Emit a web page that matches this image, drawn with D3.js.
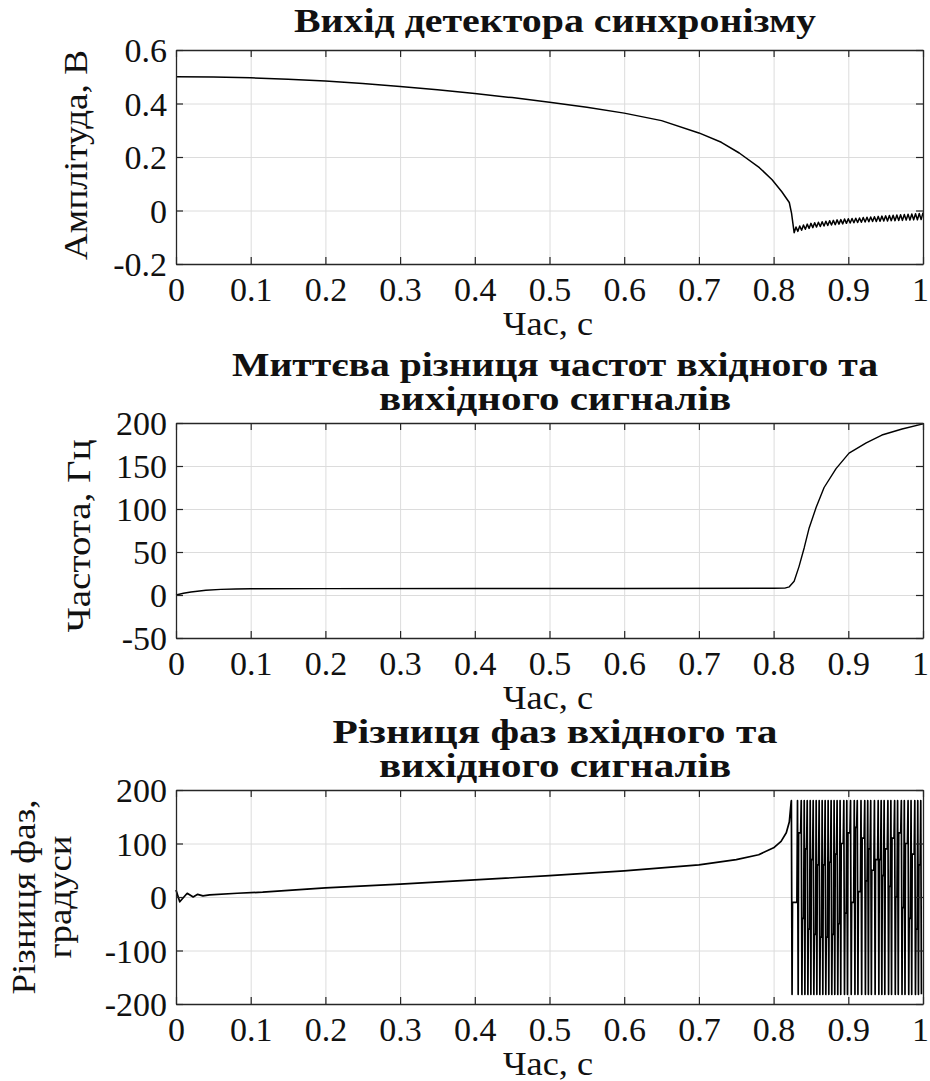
<!DOCTYPE html>
<html><head><meta charset="utf-8">
<script src="https://cdn.jsdelivr.net/npm/d3@7"></script>
<style>body{margin:0;background:#fff}</style>
</head><body>
<svg id="c" width="930" height="1081"></svg>
<script>
// ---------- data ----------
const xTicks = [0, 0.1, 0.2, 0.3, 0.4, 0.5, 0.6, 0.7, 0.8, 0.9, 1];
const xTickLabels = ["0", "0.1", "0.2", "0.3", "0.4", "0.5", "0.6", "0.7", "0.8", "0.9", "1"];

const p1YTicks = [-0.2, 0, 0.2, 0.4, 0.6];
const p1YTickLabels = ["-0.2", "0", "0.2", "0.4", "0.6"];
const p1Time = [0, 0.05, 0.1, 0.15, 0.2, 0.25, 0.3, 0.35, 0.4, 0.45, 0.5, 0.55, 0.6, 0.65, 0.7, 0.73, 0.754, 0.781, 0.798, 0.811, 0.821, 0.824,
  0.8275, 0.830, 0.8325, 0.835, 0.8375, 0.840, 0.8425, 0.845, 0.8475, 0.850, 0.8525, 0.855, 0.8575, 0.860, 0.8625, 0.865, 0.8675, 0.870,
  0.8725, 0.875, 0.8775, 0.880, 0.8825, 0.885, 0.8875, 0.890, 0.8925, 0.895, 0.8975, 0.900, 0.9025, 0.905, 0.9075, 0.910, 0.9125, 0.915,
  0.9175, 0.920, 0.9225, 0.925, 0.9275, 0.930, 0.9325, 0.935, 0.9375, 0.940, 0.9425, 0.945, 0.9475, 0.950, 0.9525, 0.955, 0.9575, 0.960,
  0.9625, 0.965, 0.9675, 0.970, 0.9725, 0.975, 0.9775, 0.980, 0.9825, 0.985, 0.9875, 0.990, 0.9925, 0.995, 0.9975, 1.0];
const p1Value = [0.5, 0.499, 0.496, 0.491, 0.484, 0.475, 0.464, 0.451, 0.437, 0.422, 0.405, 0.386, 0.364, 0.336, 0.29, 0.255, 0.215, 0.16, 0.115, 0.07, 0.03, -0.01,
  -0.083, -0.062, -0.078, -0.058, -0.074, -0.054, -0.070, -0.051, -0.067, -0.048, -0.064, -0.046, -0.062, -0.044, -0.060, -0.042, -0.058, -0.040,
  -0.056, -0.038, -0.054, -0.037, -0.053, -0.035, -0.051, -0.034, -0.050, -0.032, -0.048, -0.031, -0.047, -0.030, -0.046, -0.029, -0.045, -0.028,
  -0.044, -0.026, -0.043, -0.025, -0.042, -0.024, -0.041, -0.023, -0.041, -0.022, -0.040, -0.021, -0.039, -0.020, -0.039, -0.019, -0.038, -0.018,
  -0.038, -0.017, -0.037, -0.016, -0.037, -0.015, -0.036, -0.014, -0.036, -0.013, -0.035, -0.012, -0.035, -0.011, -0.034, -0.008];

const p2YTicks = [-50, 0, 50, 100, 150, 200];
const p2YTickLabels = ["-50", "0", "50", "100", "150", "200"];
const p2Time = [0, 0.01, 0.02, 0.04, 0.06, 0.08, 0.1, 0.2, 0.4, 0.6, 0.8, 0.815, 0.821, 0.8275, 0.834, 0.841, 0.8476, 0.857, 0.8676, 0.8836, 0.901, 0.924, 0.945, 0.972, 1.0];
const p2Value = [0, 2, 3.5, 5.5, 6.5, 7, 7.2, 7.4, 7.5, 7.6, 7.8, 8, 9.5, 16, 33, 55, 78, 102, 125, 147, 165, 177, 186, 193, 199];

const p3YTicks = [-200, -100, 0, 100, 200];
const p3YTickLabels = ["-200", "-100", "0", "100", "200"];
const p3Time = [0, 0.005, 0.015, 0.023, 0.029, 0.036, 0.045, 0.082, 0.116, 0.2, 0.3, 0.4, 0.5, 0.6, 0.7, 0.75, 0.78, 0.8, 0.81, 0.817, 0.821, 0.8235];
const p3Value = [13, -9, 7, 0, 5, 2, 4, 7, 9, 17, 24, 32, 40, 49, 60, 70, 79, 92, 104, 120, 140, 178];
// cycle-slip section: times of the full-height strokes and the level the trace rests at between them
const p3SlipTimes = [0.8238, 0.832, 0.837, 0.841, 0.845, 0.849, 0.853, 0.857, 0.861, 0.865, 0.869, 0.873, 0.877, 0.881, 0.885, 0.889,
  0.894, 0.898, 0.903, 0.908, 0.912, 0.917, 0.922, 0.926, 0.930, 0.935, 0.940, 0.944, 0.948, 0.953, 0.957, 0.962, 0.966, 0.971, 0.975,
  0.980, 0.984, 0.989, 0.993, 0.997];
const p3SlipRest = [-10, 120, -40, 90, -60, 70, -70, 60, -75, 60, -75, 65, -70, 80, -50, 100, -30, 120, -10, 130, 10, 110, 30, 90, 50,
  70, 70, 40, 90, 20, 110, 0, 120, -20, 100, -40, 80, -60, 60];
const slipTop = 180, slipBottom = -182;

// ---------- drawing ----------
const FONT = '"Liberation Serif", "Times New Roman", Tinos, serif';
const svg = d3.select("#c");
const L = 176, R = 923;
const x = d3.scaleLinear().domain([0, 1]).range([L, R]);

function txt(sel, size, len) {
  sel.style("font-family", FONT).attr("font-size", size).attr("fill", "#111");
  if (len) sel.attr("textLength", len).attr("lengthAdjust", "spacingAndGlyphs");
  return sel;
}

function panel(o) {
  const y = d3.scaleLinear().domain(o.yDomain).range([o.bottom, o.top]);
  const g = svg.append("g");
  const h = o.bottom - o.top, w = R - L;

  // grid
  const gx = g.append("g").attr("transform", `translate(0,${o.bottom})`)
    .call(d3.axisBottom(x).tickValues(xTicks.slice(1, -1)).tickSize(-h).tickFormat(""));
  const gy = g.append("g").attr("transform", `translate(${L},0)`)
    .call(d3.axisLeft(y).tickValues(o.yTicks.slice(1, -1)).tickSize(-w).tickFormat(""));
  [gx, gy].forEach(s => { s.select(".domain").remove(); s.selectAll("line").attr("stroke", "#dcdcdc").attr("stroke-width", 1); });

  // data line
  g.append("path").datum(o.points)
    .attr("fill", "none").attr("stroke", "#000").attr("stroke-width", o.lw || 1.4).attr("stroke-linejoin", "round")
    .attr("d", d3.line().x(d => x(d[0])).y(d => y(d[1])));

  // axes (ticks inward on all four sides)
  const fmtX = d => xTickLabels[xTicks.indexOf(d)];
  const fmtY = d => o.yLabels[o.yTicks.indexOf(d)];
  const ab = g.append("g").attr("transform", `translate(0,${o.bottom})`)
    .call(d3.axisBottom(x).tickValues(xTicks).tickSizeInner(-7).tickSizeOuter(0).tickPadding(14).tickFormat(fmtX));
  const at = g.append("g").attr("transform", `translate(0,${o.top})`)
    .call(d3.axisTop(x).tickValues(xTicks).tickSizeInner(-7).tickSizeOuter(0).tickFormat(""));
  const al = g.append("g").attr("transform", `translate(${L},0)`)
    .call(d3.axisLeft(y).tickValues(o.yTicks).tickSizeInner(-7).tickSizeOuter(0).tickPadding(9).tickFormat(fmtY));
  const ar = g.append("g").attr("transform", `translate(${R},0)`)
    .call(d3.axisRight(y).tickValues(o.yTicks).tickSizeInner(-7).tickSizeOuter(0).tickFormat(""));
  [ab, at, al, ar].forEach(s => {
    s.attr("font-family", null);
    s.select(".domain").attr("stroke", "#262626").attr("stroke-width", 1.3);
    s.selectAll("line").attr("stroke", "#262626").attr("stroke-width", 1.2);
    txt(s.selectAll("text"), 34);
  });
  ab.selectAll("text").attr("dy", null).attr("y", 37)
    .attr("x", d => d === 1 ? -3 : 0);
  al.selectAll("text").attr("dy", "0.34em");

  // titles & labels
  o.title.forEach((t, i) => {
    txt(g.append("text"), 33, o.titleLen[i]).attr("x", 555).attr("y", o.titleY + i * 34)
      .attr("text-anchor", "middle").attr("font-weight", "bold").text(t);
  });
  txt(g.append("text"), 33, 90).attr("x", 548).attr("y", o.bottom + 71)
    .attr("text-anchor", "middle").text("Час, с");
  o.ylabel.forEach((t, i) => {
    txt(g.append("text"), 33, o.ylabelLen[i])
      .attr("transform", `translate(${o.ylabelX[i]},${o.ylabelY}) rotate(-90)`)
      .attr("text-anchor", "middle").text(t);
  });
}

const pts1 = p1Time.map((t, i) => [t, p1Value[i]]);
const pts2 = p2Time.map((t, i) => [t, p2Value[i]]);
const pts3 = p3Time.map((t, i) => [t, p3Value[i]]);
p3SlipTimes.forEach((t, i) => {
  pts3.push([t, slipTop], [t + 0.0009, slipBottom]);
  if (i < p3SlipRest.length) {
    const next = p3SlipTimes[i + 1];
    pts3.push([t + 0.0015, p3SlipRest[i]], [next - 0.0008, p3SlipRest[i]]);
  }
});

panel({ top: 50, bottom: 264, yDomain: [-0.2, 0.6], yTicks: p1YTicks, yLabels: p1YTickLabels, points: pts1, lw: 1.5,
  title: ["Вихід детектора синхронізму"], titleLen: [522], titleY: 32,
  ylabel: ["Амплітуда, В"], ylabelLen: [210], ylabelX: [87], ylabelY: 155 });
panel({ top: 423, bottom: 638, yDomain: [-50, 200], yTicks: p2YTicks, yLabels: p2YTickLabels, points: pts2,
  title: ["Миттєва різниця частот вхідного та", "вихідного сигналів"], titleLen: [646, 352], titleY: 376,
  ylabel: ["Частота, Гц"], ylabelLen: [193], ylabelX: [90], ylabelY: 536 });
panel({ top: 790, bottom: 1004, yDomain: [-200, 200], yTicks: p3YTicks, yLabels: p3YTickLabels, points: pts3, lw: 1.7,
  title: ["Різниця фаз вхідного та", "вихідного сигналів"], titleLen: [445, 352], titleY: 743,
  ylabel: ["Різниця фаз,", "градуси"], ylabelLen: [195, 123], ylabelX: [35, 71], ylabelY: 897 });
</script>
</body></html>
